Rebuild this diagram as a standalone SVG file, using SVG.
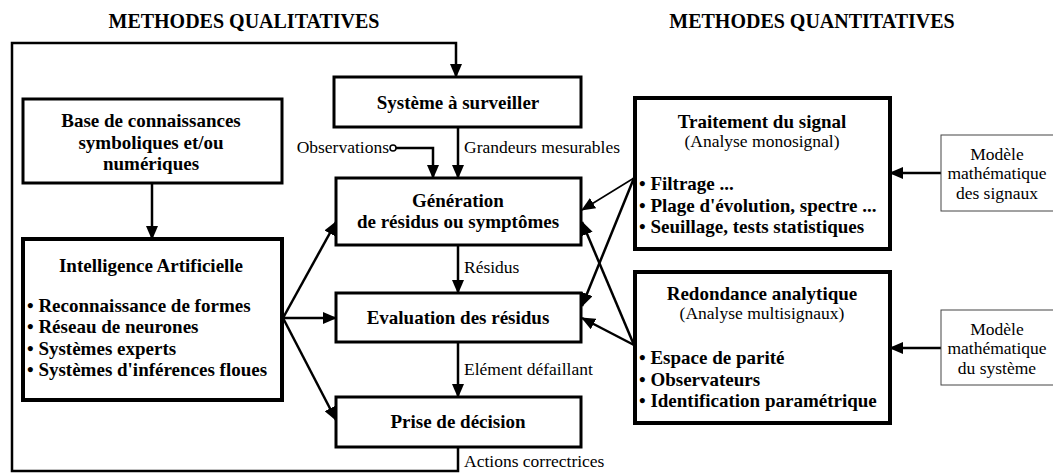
<svg xmlns="http://www.w3.org/2000/svg" width="1053" height="473" viewBox="0 0 1053 473" font-family="'Liberation Serif', 'DejaVu Serif', serif">
<style>
  text { fill: #000; }
  .b { font-weight: bold; font-size: 19px; }
  .n { font-size: 17.5px; }
  .title { font-weight: bold; font-size: 20px; }
  .box { fill: #fff; stroke: #000; stroke-width: 3; }
  .boxk { fill: #fff; stroke: #000; stroke-width: 4; }
  .thin { fill: #fff; stroke: #444; stroke-width: 1; }
  .c { fill: none; stroke: #000; stroke-width: 2.5; }
  .ct { fill: none; stroke: #000; stroke-width: 1.5; }
</style>
<defs>
  <marker id="ah" markerUnits="userSpaceOnUse" markerWidth="14" markerHeight="12" refX="13" refY="6" orient="auto">
    <path d="M0,0 L14,6 L0,12 z" fill="#000"/>
  </marker>
</defs>
<rect width="1053" height="473" fill="#fff"/>

<text class="title" x="244" y="28" text-anchor="middle">METHODES QUALITATIVES</text>
<text class="title" x="812" y="28" text-anchor="middle">METHODES QUANTITATIVES</text>

<g id="connectors">
  <polyline class="c" points="458,447 458,471 12,471 12,43 456,43 456,77" marker-end="url(#ah)"/>
  <line class="c" x1="152" y1="183" x2="152" y2="239" marker-end="url(#ah)"/>
  <line class="c" x1="458" y1="127" x2="458" y2="178" marker-end="url(#ah)"/>
  <circle cx="393" cy="148" r="3" fill="#fff" stroke="#000" stroke-width="1.5"/>
  <polyline class="c" points="396,148 433,148 433,178" marker-end="url(#ah)"/>
  <line class="c" x1="458" y1="245" x2="458" y2="293" marker-end="url(#ah)"/>
  <line class="c" x1="458" y1="342" x2="458" y2="397" marker-end="url(#ah)"/>
  <line class="c" x1="283" y1="318" x2="336" y2="222" marker-end="url(#ah)"/>
  <line class="c" x1="283" y1="318" x2="336" y2="318" marker-end="url(#ah)"/>
  <line class="c" x1="283" y1="318" x2="336" y2="420" marker-end="url(#ah)"/>
  <line class="ct" x1="634" y1="178" x2="582" y2="210" marker-end="url(#ah)"/>
  <line class="c" x1="634" y1="178" x2="582" y2="306" marker-end="url(#ah)"/>
  <line class="c" x1="634" y1="345" x2="582" y2="222" marker-end="url(#ah)"/>
  <line class="c" x1="634" y1="345" x2="582" y2="318" marker-end="url(#ah)"/>
  <line class="c" x1="941" y1="173" x2="890" y2="173" marker-end="url(#ah)"/>
  <line class="c" x1="941" y1="348" x2="890" y2="348" marker-end="url(#ah)"/>
  <text class="n" x="389" y="153" text-anchor="end">Observations</text>
  <text class="n" x="464" y="153">Grandeurs mesurables</text>
  <text class="n" x="464" y="273">Résidus</text>
  <text class="n" x="464" y="375">Elément défaillant</text>
  <text class="n" x="464" y="467">Actions correctrices</text>
</g>

<g id="systeme">
  <rect class="box" x="334" y="77" width="247" height="50"/>
  <text class="b" x="458" y="109" text-anchor="middle">Système à surveiller</text>
</g>

<g id="base">
  <rect class="box" x="23" y="99" width="259" height="84"/>
  <text class="b" x="151" y="127" text-anchor="middle">Base de connaissances</text>
  <text class="b" x="151" y="149" text-anchor="middle">symboliques et/ou</text>
  <text class="b" x="151" y="170" text-anchor="middle">numériques</text>
</g>

<g id="ia">
  <rect class="boxk" x="23" y="239" width="259" height="161"/>
  <text class="b" x="151" y="272" text-anchor="middle">Intelligence Artificielle</text>
  <text class="b" x="27" y="312">• Reconnaissance de formes</text>
  <text class="b" x="27" y="333">• Réseau de neurones</text>
  <text class="b" x="27" y="355">• Systèmes experts</text>
  <text class="b" x="27" y="376">• Systèmes d'inférences floues</text>
</g>

<g id="generation">
  <rect class="box" x="336" y="178" width="245" height="67"/>
  <text class="b" x="458" y="207" text-anchor="middle">Génération</text>
  <text class="b" x="458" y="228" text-anchor="middle">de résidus ou symptômes</text>
</g>

<g id="evaluation">
  <rect class="box" x="336" y="293" width="245" height="49"/>
  <text class="b" x="458" y="324" text-anchor="middle">Evaluation des résidus</text>
</g>

<g id="decision">
  <rect class="box" x="336" y="397" width="245" height="50"/>
  <text class="b" x="458" y="428" text-anchor="middle">Prise de décision</text>
</g>

<g id="traitement">
  <rect class="boxk" x="635" y="98" width="255" height="151"/>
  <text class="b" x="762" y="128" text-anchor="middle">Traitement du signal</text>
  <text class="n" x="762" y="147" text-anchor="middle">(Analyse monosignal)</text>
  <text class="b" x="639" y="190">• Filtrage ...</text>
  <text class="b" x="639" y="212">• Plage d'évolution, spectre ...</text>
  <text class="b" x="639" y="233">• Seuillage, tests statistiques</text>
</g>

<g id="redondance">
  <rect class="boxk" x="635" y="272" width="255" height="151"/>
  <text class="b" x="762" y="300" text-anchor="middle">Redondance analytique</text>
  <text class="n" x="762" y="319" text-anchor="middle">(Analyse multisignaux)</text>
  <text class="b" x="639" y="364">• Espace de parité</text>
  <text class="b" x="639" y="386">• Observateurs</text>
  <text class="b" x="639" y="407">• Identification paramétrique</text>
</g>

<g id="modele-signaux">
  <rect class="thin" x="941" y="135" width="120" height="76"/>
  <text class="n" x="997" y="160" text-anchor="middle">Modèle</text>
  <text class="n" x="997" y="179" text-anchor="middle">mathématique</text>
  <text class="n" x="997" y="199" text-anchor="middle">des signaux</text>
</g>

<g id="modele-systeme">
  <rect class="thin" x="941" y="310" width="120" height="75"/>
  <text class="n" x="997" y="335" text-anchor="middle">Modèle</text>
  <text class="n" x="997" y="354" text-anchor="middle">mathématique</text>
  <text class="n" x="997" y="374" text-anchor="middle">du système</text>
</g>
</svg>
